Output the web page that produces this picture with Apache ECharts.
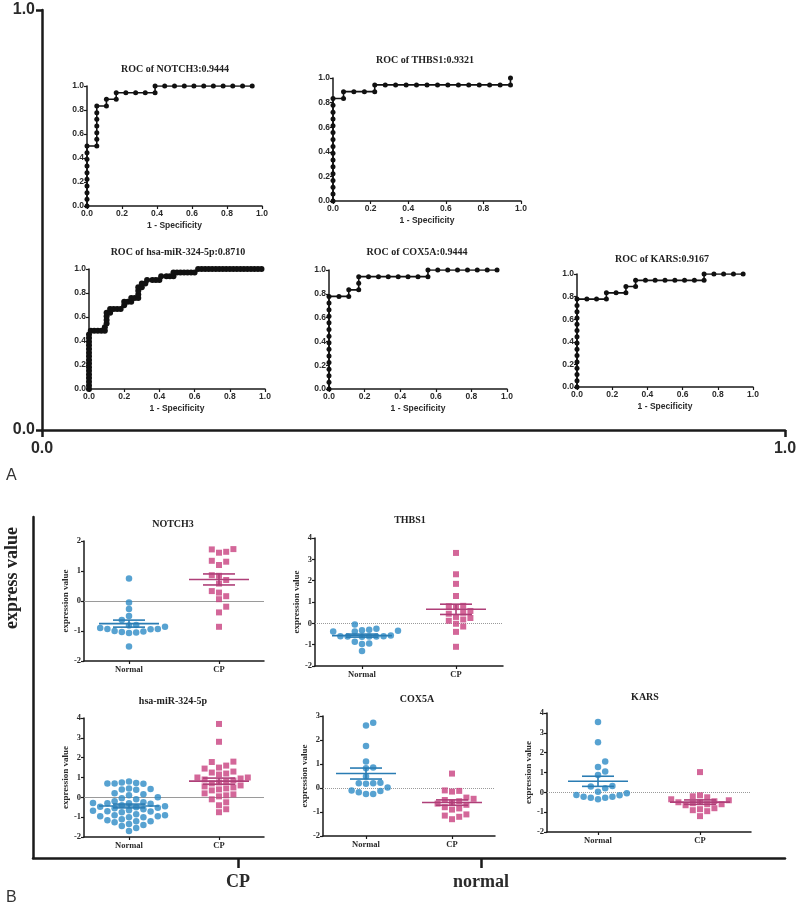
<!DOCTYPE html>
<html><head><meta charset="utf-8">
<script src="https://cdn.jsdelivr.net/npm/echarts@6/dist/echarts.min.js"></script>
<style>html,body{margin:0;padding:0;background:#fff}#c{width:800px;height:909px}</style>
</head><body><div id="c"></div>
<script>
// ---------------- DATA ----------------
const rocTitles = ['ROC of NOTCH3:0.9444','ROC of THBS1:0.9321','ROC of hsa-miR-324-5p:0.8710','ROC of COX5A:0.9444','ROC of KARS:0.9167'];
const rocXName = '1 - Specificity';
const rocNotch3 = [[0,0],[0,0.056],[0,0.111],[0,0.167],[0,0.222],[0,0.278],[0,0.333],[0,0.389],[0,0.444],[0,0.5],
  [0.056,0.5],[0.056,0.556],[0.056,0.611],[0.056,0.667],[0.056,0.722],[0.056,0.778],[0.056,0.833],
  [0.111,0.833],[0.111,0.889],[0.167,0.889],[0.167,0.944],[0.222,0.944],[0.278,0.944],[0.333,0.944],[0.389,0.944],
  [0.389,1],[0.444,1],[0.5,1],[0.556,1],[0.611,1],[0.667,1],[0.722,1],[0.778,1],[0.833,1],[0.889,1],[0.944,1]];
const rocThbs1 = [[0,0],[0,0.056],[0,0.111],[0,0.167],[0,0.222],[0,0.278],[0,0.333],[0,0.389],[0,0.444],[0,0.5],[0,0.556],[0,0.611],[0,0.667],[0,0.722],[0,0.778],[0,0.833],
  [0.056,0.833],[0.056,0.889],[0.111,0.889],[0.167,0.889],[0.222,0.889],[0.222,0.944],[0.278,0.944],[0.333,0.944],[0.389,0.944],[0.444,0.944],[0.5,0.944],[0.556,0.944],
  [0.611,0.944],[0.667,0.944],[0.722,0.944],[0.778,0.944],[0.833,0.944],[0.889,0.944],[0.944,0.944],[0.944,1]];
const rocHsa = [[0,0],[0,0.03],[0,0.061],[0,0.091],[0,0.121],[0,0.152],[0,0.182],[0,0.212],[0,0.242],[0,0.273],[0,0.303],[0,0.333],[0,0.364],[0,0.394],[0,0.424],[0,0.455],
  [0.01,0.485],[0.03,0.485],[0.05,0.485],[0.07,0.485],[0.09,0.485],[0.09,0.515],[0.1,0.545],[0.1,0.576],[0.1,0.606],[0.1,0.636],[0.12,0.636],[0.12,0.667],[0.14,0.667],[0.16,0.667],[0.18,0.667],
  [0.2,0.697],[0.2,0.727],[0.22,0.727],[0.24,0.727],[0.24,0.758],[0.26,0.758],[0.28,0.758],[0.28,0.788],[0.28,0.818],[0.28,0.848],[0.3,0.848],[0.3,0.879],[0.32,0.879],[0.33,0.909],
  [0.36,0.909],[0.38,0.909],[0.4,0.909],[0.41,0.939],[0.44,0.939],[0.46,0.939],[0.48,0.939],[0.48,0.97],[0.5,0.97],[0.52,0.97],[0.54,0.97],[0.56,0.97],[0.58,0.97],[0.6,0.97],
  [0.62,1],[0.64,1],[0.66,1],[0.68,1],[0.7,1],[0.72,1],[0.74,1],[0.76,1],[0.78,1],[0.8,1],[0.82,1],[0.84,1],[0.86,1],[0.88,1],[0.9,1],[0.92,1],[0.94,1],[0.96,1],[0.98,1]];
const rocCox5a = [[0,0],[0,0.056],[0,0.111],[0,0.167],[0,0.222],[0,0.278],[0,0.333],[0,0.389],[0,0.444],[0,0.5],[0,0.556],[0,0.611],[0,0.667],[0,0.722],[0,0.778],
  [0.056,0.778],[0.111,0.778],[0.111,0.833],[0.167,0.833],[0.167,0.889],[0.167,0.944],[0.222,0.944],[0.278,0.944],[0.333,0.944],[0.389,0.944],[0.444,0.944],[0.5,0.944],[0.556,0.944],
  [0.556,1],[0.611,1],[0.667,1],[0.722,1],[0.778,1],[0.833,1],[0.889,1],[0.944,1]];
const rocKars = [[0,0],[0,0.056],[0,0.111],[0,0.167],[0,0.222],[0,0.278],[0,0.333],[0,0.389],[0,0.444],[0,0.5],[0,0.556],[0,0.611],[0,0.667],[0,0.722],[0,0.778],
  [0.056,0.778],[0.111,0.778],[0.167,0.778],[0.167,0.833],[0.222,0.833],[0.278,0.833],[0.278,0.889],[0.333,0.889],[0.333,0.944],[0.389,0.944],[0.444,0.944],[0.5,0.944],
  [0.556,0.944],[0.611,0.944],[0.667,0.944],[0.722,0.944],[0.722,1],[0.778,1],[0.833,1],[0.889,1],[0.944,1]];

const geneNames = ['NOTCH3','THBS1','hsa-miR-324-5p','COX5A','KARS'];
const groupLabels = ['Normal','CP'];
const scatterYName = 'expression value';
const scatterYMin = [-2,-2,-2,-2,-2];
const scatterYMax = [2,4,4,3,4];
const notch3Normal = [0.75,-0.05,-0.27,-0.5,-0.63,-0.8,-0.82,-0.86,-0.93,-0.93,-0.94,-1.0,-1.02,-1.05,-1.07,-1.03,-0.9,-1.52];
const notch3CP = [1.72,1.61,1.64,1.73,1.31,1.34,1.2,0.86,0.84,0.7,0.58,0.28,0.33,0.16,0.06,-0.19,-0.38,-0.86];
const thbs1Normal = [-0.05,-0.3,-0.35,-0.38,-0.38,-0.32,-0.25,-0.62,-0.63,-0.6,-0.57,-0.62,-0.6,-0.62,-0.94,-0.86,-0.97,-1.3];
const thbs1CP = [3.3,2.3,1.85,1.28,0.82,0.8,0.76,0.58,0.5,0.45,0.3,0.25,0.18,0.12,-0.02,-0.15,-0.4,-1.1];
const hsaNormal = [0.8,0.75,0.72,0.7,0.7,0.68,0.45,0.42,0.4,0.38,0.2,0.15,0.1,0.0,-0.05,-0.1,-0.2,-0.25,-0.28,-0.3,-0.3,-0.32,
  -0.4,-0.45,-0.48,-0.5,-0.52,-0.55,-0.6,-0.65,-0.68,-0.7,-0.72,-0.75,-0.85,-0.9,-0.9,-0.95,-0.95,-1.0,-1.0,-1.1,-1.15,-1.2,-1.2,-1.25,-1.35,-1.4,-1.45,-1.55,-1.7];
const hsaCP = [3.7,2.8,1.8,1.78,1.6,1.5,1.45,1.3,1.2,1.25,1.15,1.0,1.0,0.95,0.9,0.85,0.8,0.75,0.7,0.6,0.55,0.5,0.45,0.4,0.35,0.2,0.15,0.1,0.05,-0.1,-0.25,-0.4,-0.6,-0.75];
const cox5aNormal = [2.72,2.6,1.75,1.1,0.85,0.82,0.48,0.22,0.2,0.2,0.18,0.02,-0.1,-0.12,-0.18,-0.25,-0.25];
const cox5aCP = [0.6,-0.12,-0.15,-0.1,-0.4,-0.45,-0.5,-0.55,-0.6,-0.65,-0.7,-0.8,-0.85,-0.9,-1.1,-1.15,-1.2,-1.3];
const karsNormal = [3.55,2.53,1.55,1.28,1.05,0.88,0.32,0.2,0.29,0.03,-0.05,-0.14,-0.22,-0.27,-0.35,-0.27,-0.22,-0.15];
const karsCP = [1.02,-0.15,-0.25,-0.2,-0.65,-0.6,-0.5,-0.45,-0.5,-0.6,-0.55,-0.8,-0.9,-0.85,-0.95,-1.2,-0.35,-0.4];

const frameAName = 'A';
const frameBName = 'B';
const frameBYName = 'express value';
const frameBLabels = ['CP','normal'];

// ---------------- LAYOUT / STYLE ----------------
const rocSets = [rocNotch3, rocThbs1, rocHsa, rocCox5a, rocKars];
const normalSets = [notch3Normal, thbs1Normal, hsaNormal, cox5aNormal, karsNormal];
const cpSets = [notch3CP, thbs1CP, hsaCP, cox5aCP, karsCP];
const rocGrids = [
  {left:87, top:86, width:175, height:120},
  {left:333, top:78, width:188, height:123},
  {left:89, top:269, width:176, height:120},
  {left:329, top:270, width:178, height:119},
  {left:577, top:274, width:176, height:113}
];
const rocTitlePos = [[175,69],[425,60],[178,252],[417,252],[662,259]];
const scatGrids = [
  {left:84, top:541, width:180, height:120},
  {left:315, top:538, width:188, height:128},
  {left:84, top:718, width:180, height:119},
  {left:323, top:716, width:172, height:120},
  {left:547, top:713, width:204, height:119}
];
const scatTitlePos = [[173,524],[410,520],[173,701],[417,699],[645,697]];
const frameAGrid = {left:42, top:10, width:743, height:420};
const frameBGrid = {left:33, top:517, width:752, height:341};
const frameBTickPos = [0.2726, 0.5957];

const BLUE = '#2d8bc6', MAG = '#c8417f', BLUE_L = '#2a7cb3', MAG_L = '#ae3f78';
const SERIF = '"Liberation Serif","Times New Roman",serif';
const SANS = '"Liberation Sans",Arial,sans-serif';
const NARROW = '"Liberation Sans Narrow","Liberation Sans",Arial,sans-serif';
const AX = '#1a1a1a';
const tf = (size, fam, color) => ({fontSize:size, fontFamily:fam, fontWeight:'bold', color:color||'#2a2a2a'});

function swarm(values, pxPerX, pxPerY, D, thr){
  const idx = values.map((v,i)=>i).sort((a,b)=>values[a]-values[b]);
  const placed = []; const offs = new Array(values.length);
  for (const i of idx){
    const y = values[i]*pxPerY;
    let chosen = 0;
    for (let k=0;k<60;k++){
      const cand = k===0 ? 0 : (k%2 ? Math.ceil(k/2) : -Math.ceil(k/2)) * D;
      let ok = true;
      for (const p of placed){ const dx=p[0]-cand, dy=p[1]-y; if (dx*dx+dy*dy < thr*thr){ok=false;break;} }
      if (ok){chosen=cand;break;}
    }
    placed.push([chosen,y]); offs[i]=chosen/pxPerX;
  }
  return offs;
}
function stats(a){const n=a.length;const m=a.reduce((s,v)=>s+v,0)/n;const sd=Math.sqrt(a.reduce((s,v)=>s+(v-m)*(v-m),0)/(n-1));return [m, sd/Math.sqrt(n)];}

const grid=[], xAxis=[], yAxis=[], series=[], graphic=[];

// ROC panels
rocSets.forEach((d,i)=>{
  grid.push(rocGrids[i]);
  const gi = grid.length-1;
  xAxis.push({gridIndex:gi, type:'value', min:0, max:1, interval:0.2,
    axisLine:{onZero:false, lineStyle:{color:AX, width:1.5}}, axisTick:{length:3, lineStyle:{color:AX,width:1.2}},
    axisLabel:Object.assign({formatter:v=>v.toFixed(1), margin:3, showMinLabel:true, showMaxLabel:true}, tf(8.5, SANS)),
    splitLine:{show:false}, name:rocXName, nameLocation:'middle', nameGap:15, nameTextStyle:tf(8.5, SANS)});
  yAxis.push({gridIndex:gi, type:'value', min:0, max:1, interval:0.2,
    axisLine:{onZero:false, lineStyle:{color:AX, width:1.5}}, axisTick:{length:3, lineStyle:{color:AX,width:1.2}},
    axisLabel:Object.assign({formatter:v=>v.toFixed(1), margin:3, showMinLabel:true, showMaxLabel:true}, tf(8.5, SANS)),
    splitLine:{show:false}});
  series.push({type:'line', xAxisIndex:gi, yAxisIndex:gi, data:d, symbol:'circle', symbolSize: i===2?6:5, showSymbol:true,
    lineStyle:{color:'#111', width: i===2?2.5:1.6}, itemStyle:{color:'#111'}, silent:true});
  graphic.push({type:'text', x:rocTitlePos[i][0], y:rocTitlePos[i][1], style:{text:rocTitles[i], font:'bold 10px '+SERIF, fill:'#222', align:'center', verticalAlign:'middle'}});
});

// Scatter panels
normalSets.forEach((nv,i)=>{
  const cv = cpSets[i];
  const g = scatGrids[i];
  grid.push(g);
  const gi = grid.length-1;
  const pxPerX = g.width/2, pxPerY = g.height/(scatterYMax[i]-scatterYMin[i]);
  xAxis.push({gridIndex:gi, type:'value', min:0, max:2,
    axisLine:{onZero:false, lineStyle:{color:AX, width:1.5}},
    axisTick:{customValues:[0.5,1.5], length:3, lineStyle:{color:AX,width:1.2}},
    axisLabel:Object.assign({customValues:[0.5,1.5], formatter:v=>groupLabels[Math.round(v-0.5)], margin:4}, tf(8.5, SERIF)),
    splitLine:{show:false}});
  yAxis.push({gridIndex:gi, type:'value', min:scatterYMin[i], max:scatterYMax[i], interval:1,
    axisLine:{onZero:false, lineStyle:{color:AX, width:1.5}}, axisTick:{length:3, lineStyle:{color:AX,width:1.2}},
    axisLabel:Object.assign({margin:3}, tf(8.5, SERIF)),
    splitLine:{show:false}, name:scatterYName, nameLocation:'middle', nameGap:12, nameTextStyle:tf(9, SERIF)});
  const on = swarm(nv, pxPerX, pxPerY, 7.2, 6.6);
  const oc = swarm(cv, pxPerX, pxPerY, 7.2, 6.6);
  series.push({type:'scatter', xAxisIndex:gi, yAxisIndex:gi, data:nv.map((v,k)=>[0.5+on[k], v]), symbol:'circle', symbolSize:6.5,
    itemStyle:{color:BLUE}, z:3, silent:true,
    markLine:{silent:true, symbol:'none', label:{show:false}, z:1,
      lineStyle:{color:'#9a9a9a', width:1, type:(i===0||i===2)?'solid':'dotted'}, data:[{yAxis:0}]}});
  series.push({type:'scatter', xAxisIndex:gi, yAxisIndex:gi, data:cv.map((v,k)=>[1.5+oc[k], v]), symbol:'rect', symbolSize:6,
    itemStyle:{color:MAG}, z:3, silent:true});
  const sn = stats(nv), sc = stats(cv);
  series.push({type:'custom', xAxisIndex:gi, yAxisIndex:gi, z:5, silent:true,
    data:[[0.5, sn[0], sn[1]],[1.5, sc[0], sc[1]]],
    renderItem:(params, api)=>{
      const cx=api.value(0), m=api.value(1), s=api.value(2);
      const pm=api.coord([cx,m]), pu=api.coord([cx,m+s]), pl=api.coord([cx,m-s]);
      const col = params.dataIndex===0 ? BLUE_L : MAG_L;
      const st = {stroke:col, lineWidth:1.6};
      const MW=30, SW=16;
      return {type:'group', children:[
        {type:'line', shape:{x1:pm[0]-MW,y1:pm[1],x2:pm[0]+MW,y2:pm[1]}, style:st},
        {type:'line', shape:{x1:pu[0]-SW,y1:pu[1],x2:pu[0]+SW,y2:pu[1]}, style:st},
        {type:'line', shape:{x1:pl[0]-SW,y1:pl[1],x2:pl[0]+SW,y2:pl[1]}, style:st},
        {type:'line', shape:{x1:pu[0],y1:pu[1],x2:pl[0],y2:pl[1]}, style:st}
      ]};
    }});
  graphic.push({type:'text', x:scatTitlePos[i][0], y:scatTitlePos[i][1], style:{text:geneNames[i], font:'bold 10px '+SERIF, fill:'#222', align:'center', verticalAlign:'middle'}});
});

// Frame A
grid.push(frameAGrid);
let gi = grid.length-1;
xAxis.push({gridIndex:gi, type:'value', min:0, max:1, interval:1,
  axisLine:{onZero:false, lineStyle:{color:AX, width:2.5}}, axisTick:{length:7, lineStyle:{color:AX,width:2.5}},
  axisLabel:Object.assign({formatter:v=>v.toFixed(1), margin:11, showMinLabel:true, showMaxLabel:true}, tf(16, NARROW)),
  splitLine:{show:false}});
yAxis.push({gridIndex:gi, type:'value', min:0, max:1, interval:1,
  axisLine:{onZero:false, lineStyle:{color:AX, width:2.5}}, axisTick:{length:6, lineStyle:{color:AX,width:2.5}},
  axisLabel:Object.assign({formatter:v=>v.toFixed(1), margin:7, showMinLabel:true, showMaxLabel:true}, tf(16, NARROW)),
  splitLine:{show:false}});

// Frame B
grid.push(frameBGrid);
gi = grid.length-1;
xAxis.push({gridIndex:gi, type:'value', min:0, max:1,
  axisLine:{onZero:false, lineStyle:{color:AX, width:2.5}},
  axisTick:{customValues:frameBTickPos, length:10, lineStyle:{color:AX,width:2.5}},
  axisLabel:Object.assign({customValues:frameBTickPos, formatter:v=>frameBLabels[v<0.45?0:1], margin:15}, tf(18, SERIF)),
  splitLine:{show:false}});
yAxis.push({gridIndex:gi, type:'value', min:0, max:1,
  axisLine:{show:true, onZero:false, lineStyle:{color:AX, width:2.5}}, axisTick:{show:false}, axisLabel:{show:false}, splitLine:{show:false}});

graphic.push({type:'text', x:12, y:578, rotation:Math.PI/2, style:{text:frameBYName, font:'bold 18px '+SERIF, fill:'#222', align:'center', verticalAlign:'middle'}});
graphic.push({type:'text', x:6, y:476, style:{text:frameAName, font:'16px '+SANS, fill:'#333', align:'left', verticalAlign:'middle'}});
graphic.push({type:'text', x:6, y:898, style:{text:frameBName, font:'16px '+SANS, fill:'#333', align:'left', verticalAlign:'middle'}});

const chart = echarts.init(document.getElementById('c'), null, {renderer:'canvas'});
chart.setOption({animation:false, backgroundColor:'#ffffff', grid, xAxis, yAxis, series, graphic});
</script></body></html>
